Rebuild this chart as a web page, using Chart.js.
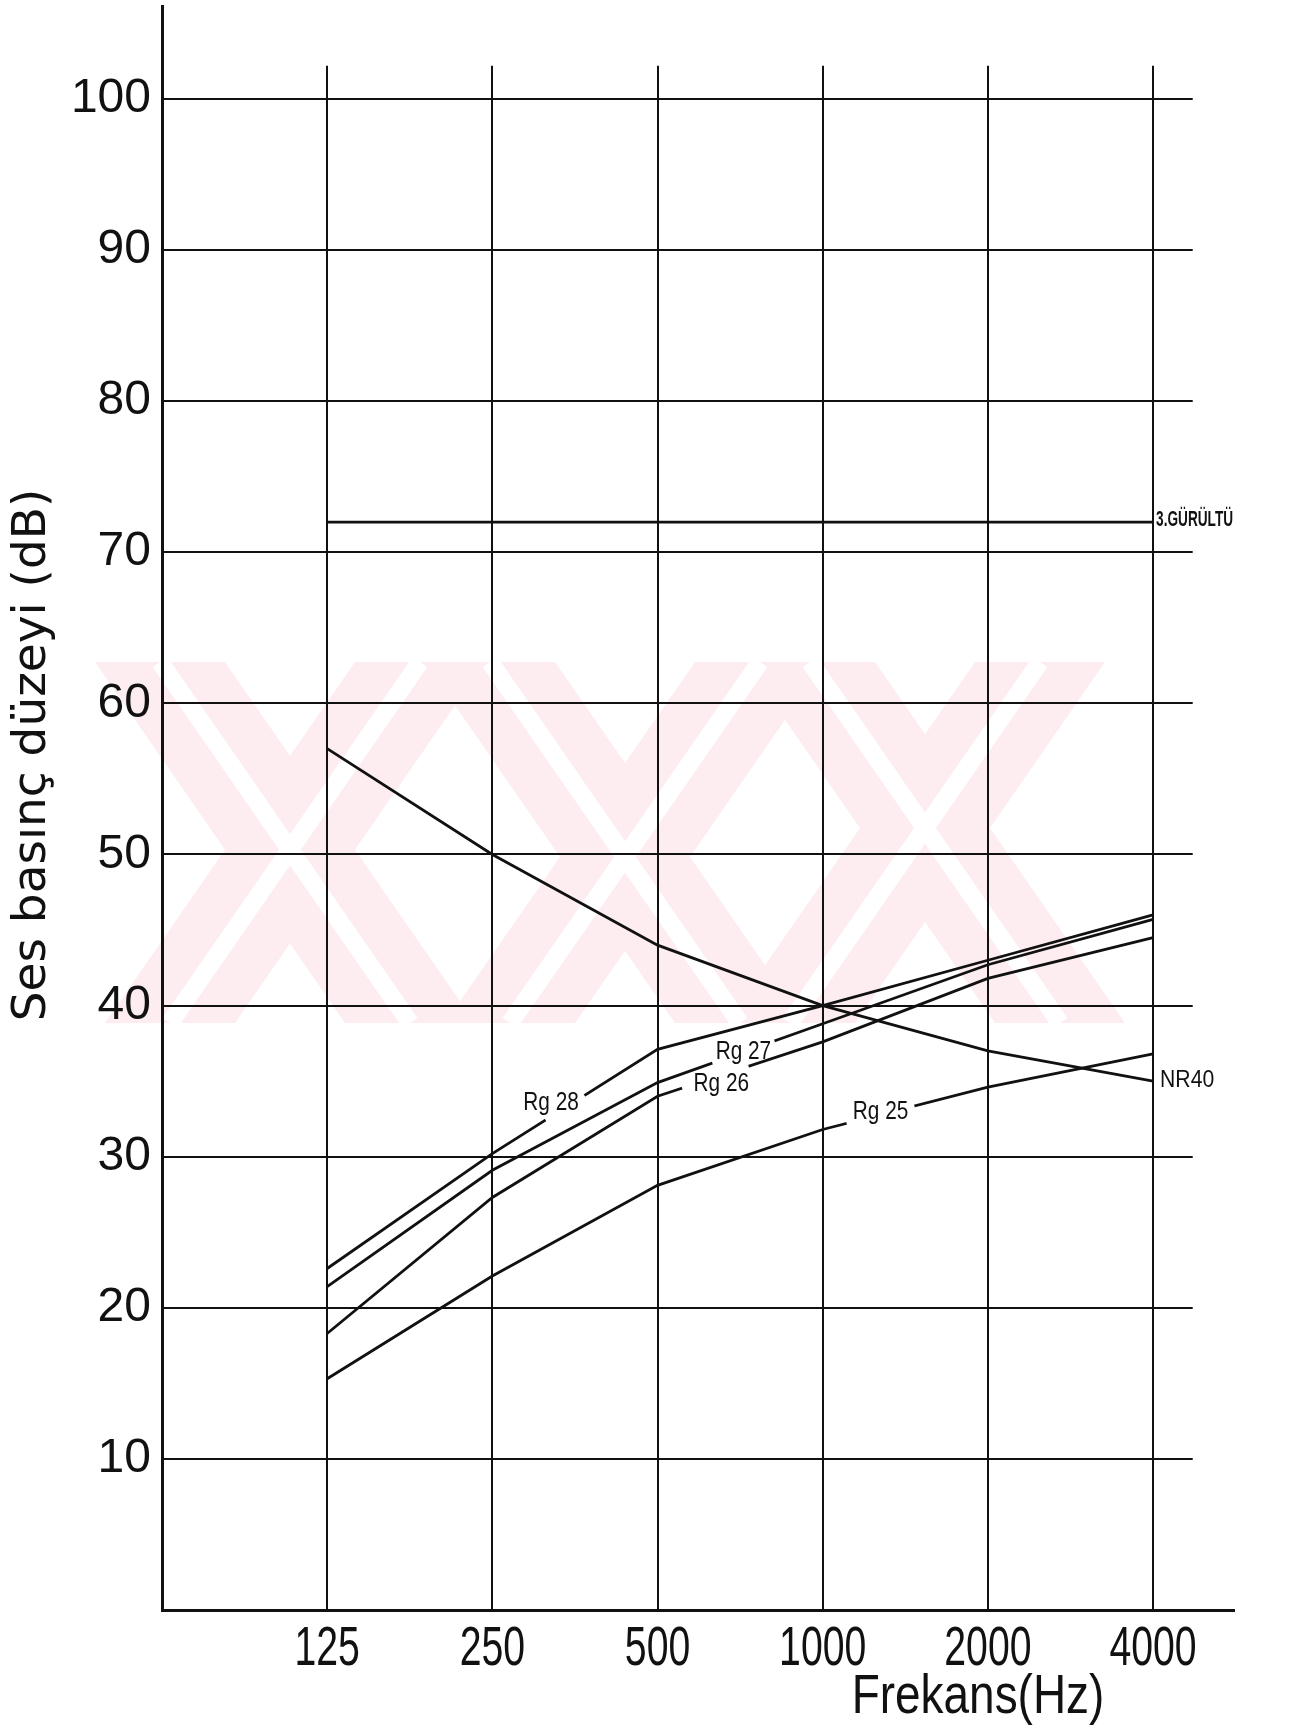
<!DOCTYPE html>
<html>
<head>
<meta charset="utf-8">
<script src="https://cdn.jsdelivr.net/npm/chart.js@4.4.0/dist/chart.umd.min.js"></script>
<style>
  html, body { margin: 0; padding: 0; background: #fff; }
  #cadre { width: 1292px; height: 1727px; }
</style>
</head>
<body>
<div id="cadre"><canvas id="graphique" width="1292" height="1727"></canvas></div>
<script>
// positions des frequences sur l'axe (bandes d'octave equidistantes)
const positions = [1, 2, 3, 4, 5, 6];
const frequences = ['125', '250', '500', '1000', '2000', '4000'];
const graduationsDb = [10, 20, 30, 40, 50, 60, 70, 80, 90, 100];

// valeurs (dB)
const gurultu3 = [72, 72, 72, 72, 72, 72];
const nr40 = [57, 50, 44, 40, 37, 35];
const rg28 = [22.6, 30.2, 37.1, 40, 43, 46];
const rg27 = [21.4, 29.1, 34.9, 38.8, 42.7, 45.7];
const rg26 = [18.3, 27.3, 34.0, 37.6, 41.8, 44.5];
const rg25 = [15.3, 22.1, 28.1, 31.8, 34.6, 36.8];

const NOIR = '#111';

function points(valeurs) {
  return valeurs.map((v, i) => ({ x: positions[i], y: v }));
}

// etiquettes posees sur les courbes (pos = position sur l'axe des x)
const etiquettes = [
  { texte: 'Rg 28', serie: rg28, pos: 2.44, dx: -14, dy: -5, trou: 46 },
  { texte: 'Rg 27', serie: rg27, pos: 3.52, dx: 0, dy: 0, trou: 66 },
  { texte: 'Rg 26', serie: rg26, pos: 3.35, dx: 6, dy: 7, trou: 70 },
  { texte: 'Rg 25', serie: rg25, pos: 4.35, dx: 0, dy: -3, trou: 70 }
];

function valeurSur(serie, pos) {
  const i = Math.min(Math.floor(pos) - 1, positions.length - 2);
  const t = pos - positions[i];
  return serie[i] + t * (serie[i + 1] - serie[i]);
}

// texte comprime horizontalement (police etroite du dessin original)
function texteEtroit(ctx, texte, x, y, echelle) {
  ctx.save();
  ctx.translate(x, y);
  ctx.scale(echelle, 1);
  ctx.fillText(texte, 0, 0);
  ctx.restore();
}

const decor = {
  id: 'decor',
  beforeDraw(chart) {
    const ctx = chart.ctx;
    const xs = chart.scales.x, ys = chart.scales.y;
    ctx.save();
    ctx.fillStyle = '#fff';
    ctx.fillRect(0, 0, chart.width, chart.height);

    // filigrane rose
    const haut = 662, bas = 1023, decal = 250, larg = 130;
    const bandes = [[160, 1], [490, 1], [810, 1], [420, -1], [760, -1], [1040, -1]];
    ctx.fillStyle = '#fdedf0';
    bandes.forEach(([c, s]) => {
      ctx.beginPath();
      ctx.moveTo(c - larg / 2, haut);
      ctx.lineTo(c + larg / 2, haut);
      ctx.lineTo(c + s * decal + larg / 2, bas);
      ctx.lineTo(c + s * decal - larg / 2, bas);
      ctx.closePath();
      ctx.fill();
    });
    ctx.strokeStyle = '#fff';
    ctx.lineWidth = 18;
    bandes.forEach(([c, s]) => {
      ctx.beginPath();
      ctx.moveTo(c, haut);
      ctx.lineTo(c + s * decal, bas);
      ctx.stroke();
    });

    // quadrillage
    ctx.strokeStyle = NOIR;
    ctx.lineWidth = 2;
    const finX = xs.getPixelForValue(6.24);
    graduationsDb.forEach(v => {
      const y = Math.round(ys.getPixelForValue(v));
      ctx.beginPath();
      ctx.moveTo(chart.chartArea.left, y);
      ctx.lineTo(finX, y);
      ctx.stroke();
    });
    const debutY = ys.getPixelForValue(102.2);
    positions.forEach(p => {
      const x = Math.round(xs.getPixelForValue(p));
      ctx.beginPath();
      ctx.moveTo(x, debutY);
      ctx.lineTo(x, chart.chartArea.bottom);
      ctx.stroke();
    });
    ctx.restore();
  },
  afterDatasetsDraw(chart) {
    const ctx = chart.ctx;
    const xs = chart.scales.x, ys = chart.scales.y;
    ctx.save();

    // etiquettes des courbes Rg
    etiquettes.forEach(e => {
      const px = xs.getPixelForValue(e.pos);
      const py = ys.getPixelForValue(valeurSur(e.serie, e.pos));
      const i = Math.floor(e.pos) - 1;
      const ax = xs.getPixelForValue(positions[i]), ay = ys.getPixelForValue(e.serie[i]);
      const bx = xs.getPixelForValue(positions[i + 1]), by = ys.getPixelForValue(e.serie[i + 1]);
      const l = Math.hypot(bx - ax, by - ay);
      const ux = (bx - ax) / l, uy = (by - ay) / l;
      ctx.strokeStyle = '#fff';
      ctx.lineWidth = 7;
      ctx.beginPath();
      ctx.moveTo(px - ux * e.trou / 2, py - uy * e.trou / 2);
      ctx.lineTo(px + ux * e.trou / 2, py + uy * e.trou / 2);
      ctx.stroke();
      ctx.fillStyle = NOIR;
      ctx.font = '26px "Liberation Sans"';
      ctx.textAlign = 'center';
      ctx.textBaseline = 'middle';
      texteEtroit(ctx, e.texte, px + e.dx, py + e.dy, 0.8);
    });

    // etiquettes en bout de ligne
    ctx.fillStyle = NOIR;
    ctx.textAlign = 'left';
    ctx.textBaseline = 'middle';
    ctx.font = '23px "Liberation Sans"';
    texteEtroit(ctx, 'NR40', xs.getPixelForValue(6) + 7, ys.getPixelForValue(nr40[5]), 0.92);
    ctx.font = 'bold 22px "Liberation Sans"';
    texteEtroit(ctx, '3.GÜRÜLTÜ', xs.getPixelForValue(6) + 3, ys.getPixelForValue(gurultu3[5]) - 2, 0.62);

    // graduations de l'axe des frequences
    ctx.font = '56px "Liberation Sans"';
    ctx.textAlign = 'center';
    ctx.textBaseline = 'alphabetic';
    positions.forEach((p, i) => {
      texteEtroit(ctx, frequences[i], xs.getPixelForValue(p), 1665, 0.7);
    });

    // titres des axes
    texteEtroit(ctx, 'Frekans(Hz)', 978, 1713, 0.82);

    ctx.translate(45, 755);
    ctx.rotate(-Math.PI / 2);
    ctx.font = '47px "DejaVu Sans"';
    ctx.fillText('Ses basınç düzeyi (dB)', 0, 0);
    ctx.restore();
  }
};

function serie(nom, valeurs) {
  return {
    label: nom,
    data: points(valeurs),
    borderColor: NOIR,
    borderWidth: 2.8,
    pointRadius: 0,
    tension: 0,
    fill: false
  };
}

const ctx = document.getElementById('graphique').getContext('2d');
new Chart(ctx, {
  type: 'line',
  data: {
    datasets: [
      serie('3.GÜRÜLTÜ', gurultu3),
      serie('NR40', nr40),
      serie('Rg 28', rg28),
      serie('Rg 27', rg27),
      serie('Rg 26', rg26),
      serie('Rg 25', rg25)
    ]
  },
  options: {
    responsive: false,
    animation: false,
    events: [],
    layout: { padding: { left: 0, right: 58, top: 6, bottom: 0 } },
    plugins: { legend: { display: false }, tooltip: { enabled: false } },
    scales: {
      x: {
        type: 'linear',
        min: 0,
        max: 6.49,
        grid: { display: false, drawTicks: false },
        border: { display: true, color: NOIR, width: 3 },
        afterBuildTicks: s => { s.ticks = positions.map(p => ({ value: p })); },
        afterFit: s => { s.height = 117; s.paddingLeft = 0; s.paddingRight = 0; },
        ticks: { display: false }
      },
      y: {
        min: 0,
        max: 106.15,
        grid: { display: false, drawTicks: false },
        border: { display: true, color: NOIR, width: 3 },
        afterBuildTicks: s => { s.ticks = graduationsDb.map(v => ({ value: v })); },
        afterFit: s => { s.width = 162; s.paddingTop = 0; s.paddingBottom = 0; },
        ticks: {
          padding: 11,
          color: NOIR,
          font: { family: 'Liberation Sans', size: 48 }
        }
      }
    }
  },
  plugins: [decor]
});
</script>
</body>
</html>
